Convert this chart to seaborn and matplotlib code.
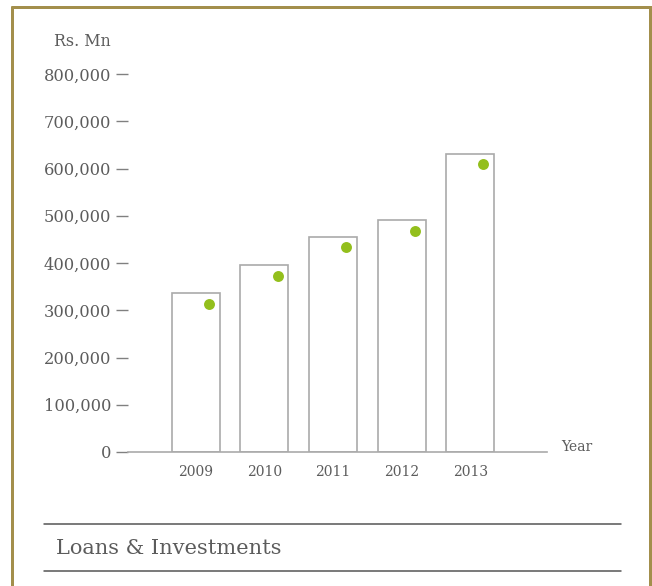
import matplotlib
matplotlib.use("Agg")
import matplotlib.pyplot as plt
import matplotlib.transforms as mtransforms
from matplotlib.lines import Line2D
import seaborn as sns
import pandas as pd

# Loans & Investments, Rs. Mn
years = ["2009", "2010", "2011", "2012", "2013"]
loans_investments = [336000, 396000, 455000, 491000, 631000]
second_series = [314000, 372500, 433000, 468500, 609500]
y_ticks = [0, 100000, 200000, 300000, 400000, 500000, 600000, 700000, 800000]

sns.set_theme(style="white")
plt.rcParams["font.family"] = ["DejaVu Serif", "DejaVu Sans"]

TEXT = "#5c5c5c"
GOLD = "#a38f4c"
GREEN = "#93bf1c"

fig = plt.figure(figsize=(6.52, 5.86), dpi=100)
ax = fig.add_axes([128 / 652, 134 / 586, (547 - 128) / 652, (452 - 74) / 586])

df = pd.DataFrame({"year": years, "loans": loans_investments, "other": second_series})

sns.barplot(data=df, x="year", y="loans", color="white", edgecolor="#aaaaaa",
            linewidth=1.2, width=0.7, saturation=1, ax=ax, zorder=2)
sns.scatterplot(data=df, x="year", y="other", color=GREEN, s=62, linewidth=0,
                ax=ax, zorder=3)
# nudge the dots toward the right side of each bar
dots = ax.collections[-1]
dots.set_offset_transform(ax.transData + mtransforms.ScaledTranslation(13.3 / 100, 0, fig.dpi_scale_trans))

ax.set_xlim(-0.99, 5.12)
ax.set_ylim(0, 800000)
ax.set_yticks(y_ticks)
ax.set_yticklabels([f"{v:,}" for v in y_ticks])
ax.set_xlabel("")
ax.set_ylabel("")

for side in ("left", "top", "right"):
    ax.spines[side].set_visible(False)
ax.spines["bottom"].set_color("#aaaaaa")
ax.spines["bottom"].set_linewidth(1.2)
ax.spines["bottom"].set_zorder(4)

ax.tick_params(axis="y", length=8.6, width=1, color="#808080", pad=3.4,
               labelsize=11.7, labelcolor=TEXT, left=True)
ax.tick_params(axis="x", length=0, pad=9, labelsize=10, labelcolor=TEXT)

fig.text(54 / 652, 1 - 41 / 586, "Rs. Mn", fontsize=11.4, color=TEXT, va="center", ha="left")
fig.text(561 / 652, 1 - 447 / 586, "Year", fontsize=10, color=TEXT, va="center", ha="left")

# title band
for yy in (524, 571):
    fig.add_artist(Line2D([44 / 652, 621 / 652], [1 - yy / 586] * 2, color="#555555", lw=1.1))
fig.text(56 / 652, 1 - 548 / 586, "Loans & Investments", fontsize=15, color=TEXT,
         va="center", ha="left")

# gold frame
fw = 3
fig.add_artist(Line2D([12 / 652, 12 / 652], [0, 1 - 6 / 586], color=GOLD, lw=fw * 0.72, solid_capstyle="butt"))
fig.add_artist(Line2D([650 / 652, 650 / 652], [0, 1 - 6 / 586], color=GOLD, lw=fw * 0.72, solid_capstyle="butt"))
fig.add_artist(Line2D([10.5 / 652, 651.5 / 652], [1 - 6.5 / 586] * 2, color=GOLD, lw=fw * 0.72, solid_capstyle="butt"))

fig.savefig("out.png", dpi=100)
